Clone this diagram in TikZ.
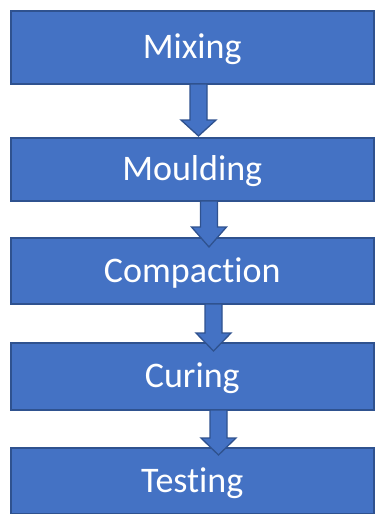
\documentclass[tikz,border=0pt]{standalone}
\usepackage{fontspec}
\setmainfont[Ligatures=NoCommon]{Carlito}
\definecolor{boxfill}{HTML}{4472C4}
\definecolor{boxline}{HTML}{2F528F}
\tikzset{
  stagebox/.style={draw=boxline, line width=1.5pt, fill=boxfill, text=white,
    minimum width=363pt, anchor=north west, inner sep=0pt,
    font=\fontsize{36}{40}\selectfont, text height=23pt, text depth=0pt},
  blockarrow/.style={draw=boxline, line width=1.3pt, fill=boxfill, line join=miter}
}
% #1 = centre x, #2 = start y, #3 = head y, #4 = tip y
\newcommand{\myblockarrow}[4]{%
  \path[blockarrow] (#1-8.5,#2) -- (#1+8.5,#2) -- (#1+8.5,#3) -- (#1+17.5,#3)
    -- (#1,#4) -- (#1-17.5,#3) -- (#1-8.5,#3) -- cycle;}
\begin{document}
\begin{tikzpicture}[x=1pt,y=-1pt]
\useasboundingbox (0,0) rectangle (375,514);
\node[stagebox, minimum height=73pt] (mix)  at (10,10)  {Mixing};
\node[stagebox, minimum height=63pt] (mould) at (10,137) {Moulding};
\node[stagebox, minimum height=66pt] (comp) at (10,237) {Compaction};
\node[stagebox, minimum height=67pt] (cure) at (10,342) {Curing};
\node[stagebox, minimum height=66pt] (test) at (10,447) {Testing};
\myblockarrow{198.5}{84}{120}{136}
\myblockarrow{209}{201}{227}{247}
\myblockarrow{213.5}{304}{333}{351}
\myblockarrow{218.5}{410}{438}{455}
\end{tikzpicture}
\end{document}
